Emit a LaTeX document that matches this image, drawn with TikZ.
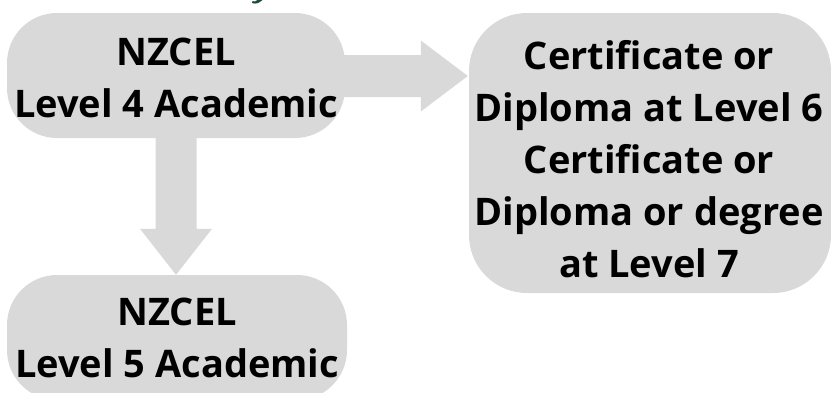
\documentclass[tikz,border=0pt]{standalone}
\usepackage{fontspec}
\setmainfont{Open Sans}
\usetikzlibrary{calc}
\definecolor{boxgray}{HTML}{D9D9D9}
\definecolor{tealdark}{HTML}{1D4A45}
\begin{document}
\begin{tikzpicture}[x=1pt,y=-1pt,
  box/.style={fill=boxgray, rounded corners=50pt, inner sep=0pt},
  lbl/.style={font=\fontsize{38}{52}\selectfont\bfseries, align=center, inner sep=0pt, text=black},
  blockarrow/.style={fill=boxgray}]
\useasboundingbox (0,0) rectangle (831,392);
\clip (0,0) rectangle (831,392);
% partial title glyph at top edge
\fill[tealdark] (252,3) .. controls (256,4.5) and (259,3) .. (262.5,0) -- (257.5,0) .. controls (256,1.5) and (254.5,1.6) .. (252.5,1.2) -- cycle;
% boxes
\node[box, minimum width=338pt, minimum height=125pt] (l4) at (176,75.5) {};
\node[box, minimum width=340pt, minimum height=125pt] (l5) at (177,337.5) {};
\node[box, rounded corners=58pt, minimum width=362pt, minimum height=280pt] (l67) at (650,153) {};
% block arrows
\coordinate (htip) at ($(l67.west |- l4.east)+(-1,0.5)$);
\fill[blockarrow] ($(l4.east)+(-10,-20.5)$) -- ($(htip)+(-47,-21)$) -- ($(htip)+(-47,-35.5)$) -- (htip)
  -- ($(htip)+(-47,35.5)$) -- ($(htip)+(-47,21)$) -- ($(l4.east)+(-10,21.5)$) -- cycle;
\coordinate (vtip) at (l4.south |- l5.north);
\fill[blockarrow] ($(l4.south)+(-20.5,-10)$) -- ($(vtip)+(-20.5,-46)$) -- ($(vtip)+(-36,-46)$) -- (vtip)
  -- ($(vtip)+(36,-46)$) -- ($(vtip)+(20.5,-46)$) -- ($(l4.south)+(20.5,-10)$) -- cycle;
% texts
\node[lbl] (t4) at (176,77.5) {NZCEL\\Level 4 Academic};
\node[lbl] (t5) at (177,337.5) {NZCEL\\Level 5 Academic};
\node[lbl] (t67) at (649,159) {Certificate or\\Diploma at Level 6\\Certificate or\\Diploma or degree\\at Level 7};
\end{tikzpicture}
\end{document}
